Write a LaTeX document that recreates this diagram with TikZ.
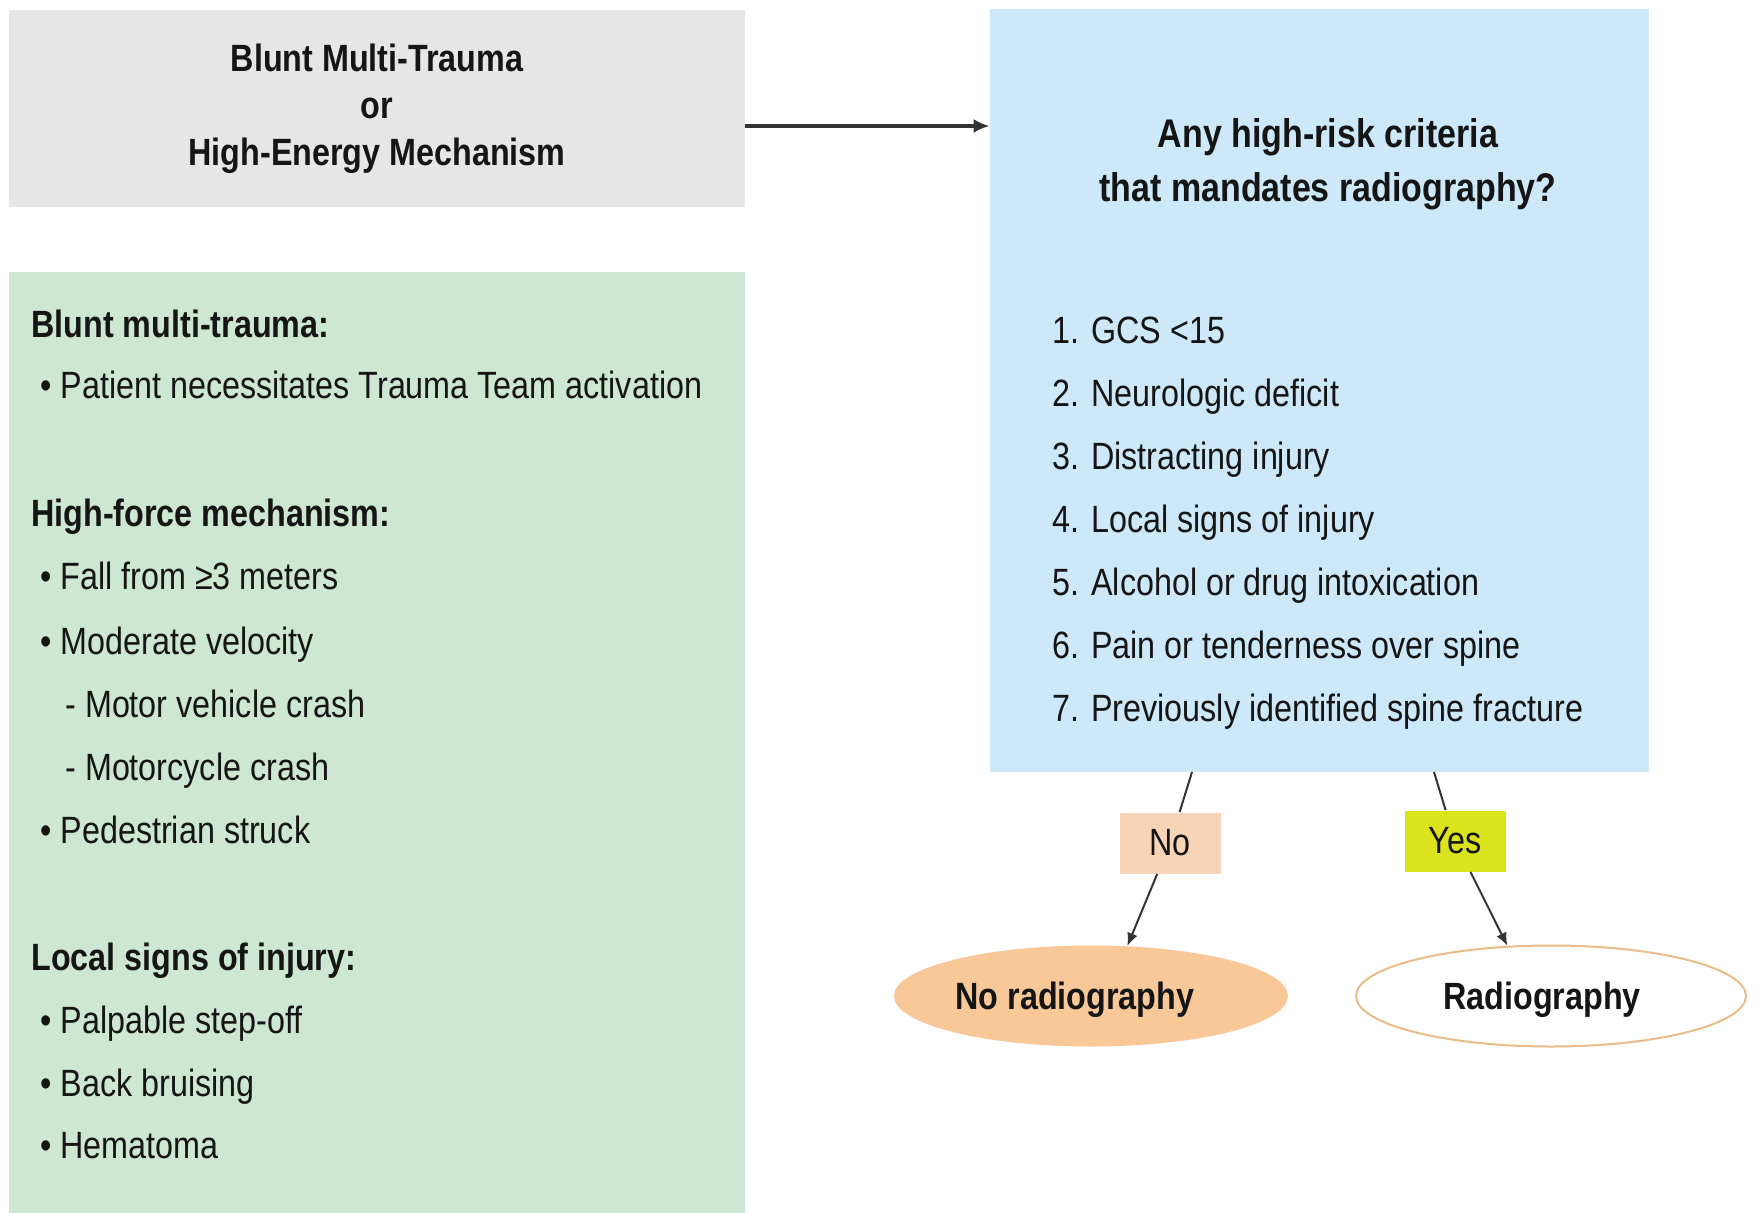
\documentclass[tikz,border=0pt]{standalone}
\usepackage{fontspec}
\setmainfont[FakeStretch=0.85]{Liberation Sans}
\usetikzlibrary{shapes.geometric,arrows.meta}

\definecolor{panelgray}{HTML}{E6E6E6}
\definecolor{panelblue}{HTML}{CCE8F9}
\definecolor{panelgreen}{HTML}{CDE7D3}
\definecolor{tagno}{HTML}{F8D4B6}
\definecolor{tagyes}{HTML}{DAE31C}
\definecolor{ellno}{HTML}{F8C898}
\definecolor{ellyes}{HTML}{E9BC8A}
\definecolor{ink}{HTML}{151515}
\definecolor{wirecol}{HTML}{333333}

\tikzset{
  panel/.style={rectangle, draw=none, inner sep=0pt},
  heading/.style={anchor=mid west, inner sep=0pt, text=ink, font=\fontsize{19}{23}\selectfont\bfseries},
  entry/.style={anchor=mid west, inner sep=0pt, text=ink, font=\fontsize{19}{23}\selectfont},
  tag/.style={rectangle, inner sep=0pt, minimum width=50.5pt, minimum height=30.5pt,
    text=ink, font=\fontsize{19}{23}\selectfont},
  outcome/.style={ellipse, inner sep=0pt, minimum width=197pt, minimum height=50.5pt},
  outcometext/.style={text=ink, font=\fontsize{19}{23}\selectfont\bfseries},
  wire/.style={draw=wirecol, line width=1pt},
  flowtip/.style={-{Latex[length=6.5pt,width=5.5pt]}}
}

\begin{document}
\begin{tikzpicture}[x=0.5pt,y=-0.5pt]
  \fill[white] (0,0) rectangle (1764,1213);
  \useasboundingbox (0,0) rectangle (1764,1213);

  % entry condition
  \node[panel, fill=panelgray, minimum width=368pt, minimum height=98.5pt,
        align=center, text=ink, font=\fontsize{19}{23.5}\selectfont\bfseries]
        (mech) at (377,108.5) {Blunt Multi-Trauma\\or\\High-Energy Mechanism};

  % decision panel
  \node[panel, fill=panelblue, minimum width=329.5pt, minimum height=381.5pt]
        (crit) at (1319.5,390.5) {};
  \node[align=center, text=ink, font=\fontsize{20}{27}\selectfont\bfseries]
        (question) at (1328,164) {Any high-risk criteria\\that mandates radiography?};
  \node[entry] (c1) at (1052,338) {1. GCS <15};
  \node[entry] (c2) at (1052,401) {2. Neurologic deficit};
  \node[entry] (c3) at (1052,464) {3. Distracting injury};
  \node[entry] (c4) at (1052,527) {4. Local signs of injury};
  \node[entry] (c5) at (1052,590) {5. Alcohol or drug intoxication};
  \node[entry] (c6) at (1052,653) {6. Pain or tenderness over spine};
  \node[entry] (c7) at (1052,716) {7. Previously identified spine fracture};

  % definitions panel
  \node[panel, fill=panelgreen, minimum width=368pt, minimum height=470.5pt]
        (factors) at (377,742.5) {};
  \node[heading] (h1) at (31,332) {Blunt multi-trauma:};
  \node[entry] (b1) at (40,393) {• Patient necessitates Trauma Team activation};
  \node[heading] (h2) at (31,521) {High-force mechanism:};
  \node[entry] (b2) at (40,584) {• Fall from ≥3 meters};
  \node[entry] (b3) at (40,649) {• Moderate velocity};
  \node[entry] (b4) at (65,712) {- Motor vehicle crash};
  \node[entry] (b5) at (65,775) {- Motorcycle crash};
  \node[entry] (b6) at (40,838) {• Pedestrian struck};
  \node[heading] (h3) at (31,965) {Local signs of injury:};
  \node[entry] (b7) at (40,1028) {• Palpable step-off};
  \node[entry] (b8) at (40,1091) {• Back bruising};
  \node[entry] (b9) at (40,1153) {• Hematoma};

  % outcomes
  \node[outcome, fill=ellno,
        label={[outcometext, xshift=-8pt, yshift=-2pt]center:No radiography}]
        (noell) at (1091,996) {};
  \node[outcome, fill=white, draw=ellyes, line width=1pt, minimum width=195pt,
        label={[outcometext, xshift=-4.5pt, yshift=-2pt]center:Radiography}]
        (radell) at (1551,996) {};

  % answer tags
  \node[tag, fill=tagno] (nolab) at (1170,843) {No};
  \node[tag, fill=tagyes] (yeslab) at (1455,841) {Yes};

  % connectors
  \coordinate (arrowrow) at (0,126);
  \coordinate (noA) at (1192,772);
  \coordinate (yesA) at (1434,772);
  \draw[wire, line width=1.8pt, -{Latex[length=8pt,width=7pt]}]
        (mech.east |- arrowrow) -- (crit.west |- arrowrow);
  \draw[wire] (noA) -- (nolab);
  \draw[wire, flowtip] (nolab) -- (noell.54);
  \draw[wire] (yesA) -- (yeslab);
  \draw[wire, flowtip] (yeslab) -- (radell.131);
\end{tikzpicture}
\end{document}
